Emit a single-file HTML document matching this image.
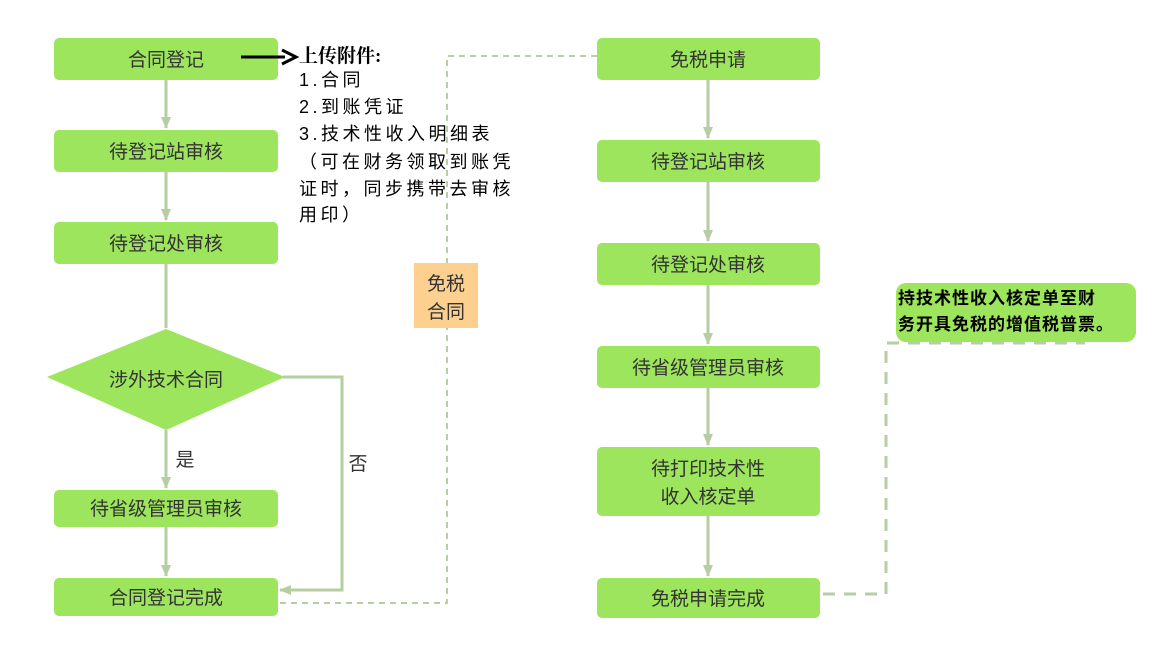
<!DOCTYPE html>
<html><head><meta charset="utf-8"><style>
body{margin:0;background:#fff;width:1176px;height:642px;overflow:hidden}
svg text{font-family:"Liberation Sans","Noto Sans CJK SC",sans-serif}
</style></head><body>
<svg width="1176" height="642" xmlns="http://www.w3.org/2000/svg">
<defs>
<marker id="ga" markerWidth="12" markerHeight="10" refX="11" refY="5" orient="auto" markerUnits="userSpaceOnUse">
<path d="M0,0 L12,5 L0,10 Z" fill="#b7cda3"/></marker>
</defs>
<g stroke="#b7cda3" stroke-width="3" fill="none">
<line x1="166" y1="80" x2="166" y2="128" marker-end="url(#ga)"/>
<line x1="166" y1="172" x2="166" y2="220" marker-end="url(#ga)"/>
<line x1="166" y1="264" x2="166" y2="328"/>
<line x1="166" y1="430" x2="166" y2="488" marker-end="url(#ga)"/>
<line x1="166" y1="527" x2="166" y2="576" marker-end="url(#ga)"/>
<polyline points="283,377 342,377 342,590 280,590" marker-end="url(#ga)"/>
<line x1="708" y1="80" x2="708" y2="138" marker-end="url(#ga)"/>
<line x1="708" y1="182" x2="708" y2="241" marker-end="url(#ga)"/>
<line x1="708" y1="285" x2="708" y2="344" marker-end="url(#ga)"/>
<line x1="708" y1="388" x2="708" y2="445" marker-end="url(#ga)"/>
<line x1="708" y1="516" x2="708" y2="576" marker-end="url(#ga)"/>
</g>
<g stroke="#b7cda3" stroke-width="2" fill="none" stroke-dasharray="6,5">
<polyline points="280,603 447,603 447,56 597,56"/>
</g>
<g stroke="#b7cda3" stroke-width="3" fill="none" stroke-dasharray="12,9">
<polyline points="823,594 886,594 886,343 1085,343"/>
</g>
<g fill="#9de55d">
<rect x="54" y="38" width="224" height="42" rx="5"/>
<rect x="54" y="130" width="224" height="42" rx="5"/>
<rect x="54" y="222" width="224" height="42" rx="5"/>
<polygon points="47,377 166,329 285,377 166,430"/>
<rect x="54" y="490" width="224" height="37" rx="5"/>
<rect x="54" y="578" width="224" height="38" rx="5"/>
<rect x="597" y="38" width="223" height="42" rx="5"/>
<rect x="597" y="140" width="223" height="42" rx="5"/>
<rect x="597" y="243" width="223" height="42" rx="5"/>
<rect x="597" y="346" width="223" height="42" rx="5"/>
<rect x="597" y="447" width="223" height="69" rx="5"/>
<rect x="597" y="578" width="223" height="40" rx="5"/>
<rect x="896" y="283" width="240" height="59" rx="10"/>
</g>
<rect x="414" y="263" width="64" height="65" fill="#fdd08f"/>
<g font-size="19" fill="#333" text-anchor="middle">
<text x="166" y="66">合同登记</text>
<text x="166" y="158">待登记站审核</text>
<text x="166" y="250">待登记处审核</text>
<text x="166" y="386">涉外技术合同</text>
<text x="166" y="515">待省级管理员审核</text>
<text x="166" y="604">合同登记完成</text>
<text x="708" y="66">免税申请</text>
<text x="708" y="168">待登记站审核</text>
<text x="708" y="271">待登记处审核</text>
<text x="708" y="374">待省级管理员审核</text>
<text x="708" y="475">待打印技术性</text>
<text x="708" y="503">收入核定单</text>
<text x="708" y="605">免税申请完成</text>
<text x="446" y="290">免税</text>
<text x="446" y="318">合同</text>
<text x="185" y="466">是</text>
<text x="358" y="470">否</text>
</g>
<line x1="241" y1="57" x2="285" y2="57" stroke="#000" stroke-width="3"/>
<path d="M282,50 L296,57 L282,64" stroke="#000" stroke-width="3" fill="none"/>
<g fill="#000">
<text x="299" y="62" font-size="19" font-weight="bold" style="font-family:'Liberation Serif','Noto Serif CJK SC',serif">上传附件:</text>
<g font-size="18" letter-spacing="3.5" style="font-family:'Liberation Serif','Noto Serif CJK SC',serif">
<text x="299" y="86">1.合同</text>
<text x="299" y="113">2.到账凭证</text>
<text x="299" y="140">3.技术性收入明细表</text>
<text x="299" y="168">（可在财务领取到账凭</text>
<text x="299" y="195">证时，同步携带去审核</text>
<text x="299" y="221">用印）</text>
</g>
<g font-size="17" font-weight="bold" letter-spacing="1" style="font-family:'Liberation Serif','Noto Serif CJK SC',serif">
<text x="898" y="304">持技术性收入核定单至财</text>
<text x="898" y="330">务开具免税的增值税普票。</text>
</g>
</g>
</svg>
</body></html>
